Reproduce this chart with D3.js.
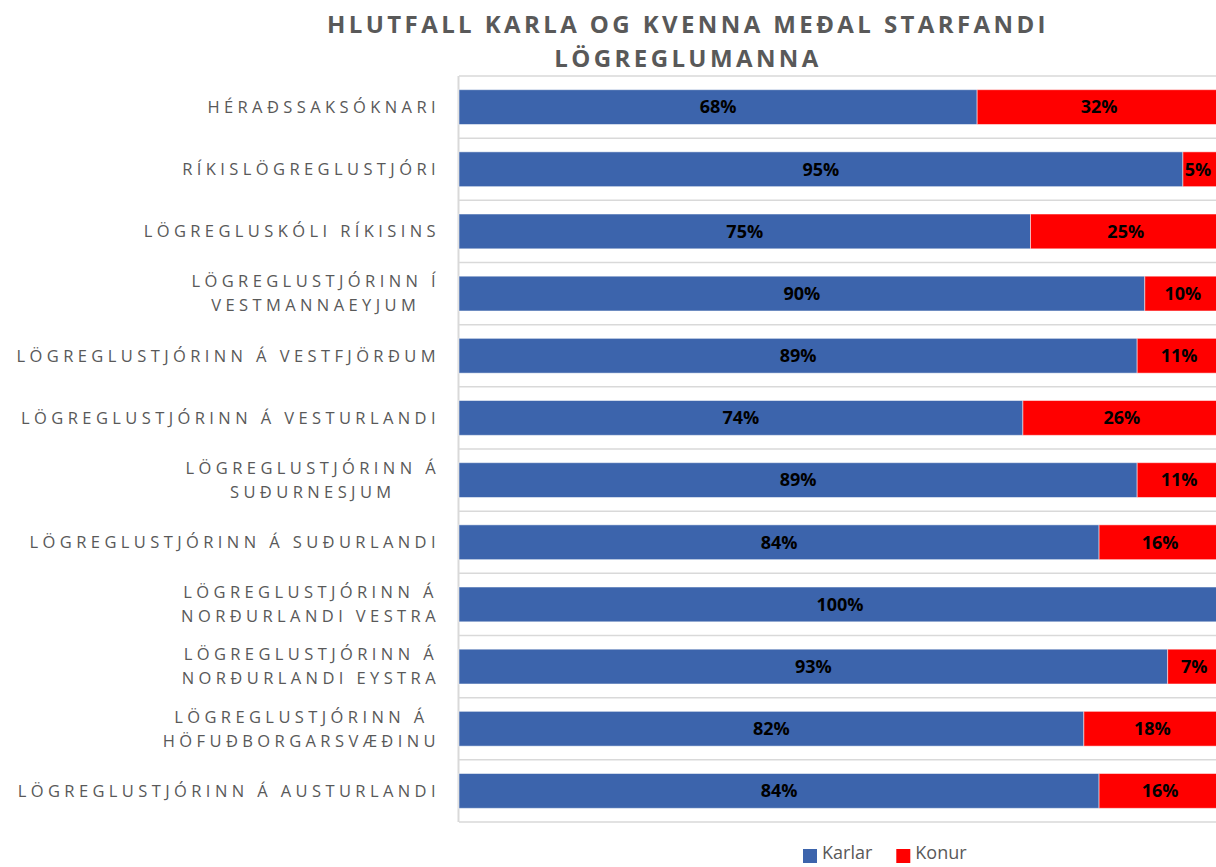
<!DOCTYPE html>
<html>
<head>
<meta charset="utf-8">
<script src="https://cdn.jsdelivr.net/npm/d3@7"></script>
<style>
  html, body { margin: 0; padding: 0; background: #fff; }
  svg { display: block; }
</style>
</head>
<body>
<svg id="chart" width="1216" height="867"></svg>
<script>
const categories = [
  "HÉRAÐSSAKSÓKNARI",
  "RÍKISLÖGREGLUSTJÓRI",
  "LÖGREGLUSKÓLI RÍKISINS",
  "LÖGREGLUSTJÓRINN Í|VESTMANNAEYJUM",
  "LÖGREGLUSTJÓRINN Á VESTFJÖRÐUM",
  "LÖGREGLUSTJÓRINN Á VESTURLANDI",
  "LÖGREGLUSTJÓRINN Á|SUÐURNESJUM",
  "LÖGREGLUSTJÓRINN Á SUÐURLANDI",
  "LÖGREGLUSTJÓRINN Á|NORÐURLANDI VESTRA",
  "LÖGREGLUSTJÓRINN Á|NORÐURLANDI EYSTRA",
  "LÖGREGLUSTJÓRINN Á|HÖFUÐBORGARSVÆÐINU",
  "LÖGREGLUSTJÓRINN Á AUSTURLANDI"
];
const karlar = [68, 95, 75, 90, 89, 74, 89, 84, 100, 93, 82, 84];
const konur  = [32, 5, 25, 10, 11, 26, 11, 16, 0, 7, 18, 16];
const seriesNames = ["Karlar", "Konur"];
const seriesColors = ["#3C64AC", "#FF0000"];
const titleLines = ["HLUTFALL KARLA OG KVENNA MEÐAL STARFANDI", "LÖGREGLUMANNA"];

const svg = d3.select("#chart");
const W = 1216, H = 867;
const plot = { left: 459, right: 1221, top: 76, bottom: 822 };
const FONT = "'Open Sans', 'Liberation Sans', sans-serif";
const GRAY = "#595959";

const rows = categories.map((c, i) => ({ cat: c, Karlar: karlar[i], Konur: konur[i] }));
const stack = d3.stack().keys(seriesNames)(rows);

const x = d3.scaleLinear().domain([0, 100]).range([plot.left, plot.right]);
const y = d3.scaleBand().domain(categories).range([plot.top, plot.bottom]).paddingInner(0.44).paddingOuter(0.22);
const band = d3.scaleBand().domain(categories).range([plot.top, plot.bottom]);
const color = d3.scaleOrdinal().domain(seriesNames).range(seriesColors);

// Title
svg.append("g").selectAll("text").data(titleLines).join("text")
  .attr("x", 688).attr("y", (d, i) => 33 + i * 34)
  .attr("text-anchor", "middle")
  .attr("font-family", FONT).attr("font-weight", "bold")
  .attr("font-size", 24).attr("letter-spacing", 3.4)
  .attr("fill", GRAY)
  .text(d => d);

// Gridlines at category boundaries
const bounds = categories.map(c => band(c)).concat([plot.bottom]);
svg.append("g").selectAll("line").data(bounds).join("line")
  .attr("x1", plot.left).attr("x2", W)
  .attr("y1", d => d).attr("y2", d => d)
  .attr("stroke", "#d9d9d9").attr("stroke-width", 1.5);

// left axis line
svg.append("line")
  .attr("x1", plot.left - 0.5).attr("x2", plot.left - 0.5)
  .attr("y1", plot.top).attr("y2", plot.bottom)
  .attr("stroke", "#d9d9d9").attr("stroke-width", 2);

// Bars
const layers = svg.append("g").selectAll("g").data(stack).join("g")
  .attr("fill", d => color(d.key));
layers.selectAll("rect").data(d => d.map(v => ({ key: d.key, v }))).join("rect")
  .attr("x", d => x(d.v[0]))
  .attr("y", d => y(d.v.data.cat))
  .attr("width", d => x(d.v[1]) - x(d.v[0]))
  .attr("height", y.bandwidth())
  .attr("stroke", "#ffffff").attr("stroke-opacity", 0.5).attr("stroke-width", 1);

// Value labels
const labels = [];
stack.forEach(s => s.forEach(v => {
  const val = v[1] - v[0];
  if (val > 0) labels.push({ x: (x(v[0]) + x(v[1])) / 2, y: y(v.data.cat) + y.bandwidth() / 2, t: val + "%" });
}));
svg.append("g").selectAll("text").data(labels).join("text")
  .attr("x", d => Math.min(d.x, W - 18)).attr("y", d => d.y)
  .attr("dy", "0.35em").attr("text-anchor", "middle")
  .attr("font-family", FONT).attr("font-weight", "bold").attr("font-size", 18)
  .attr("fill", "#000")
  .text(d => d.t);

// Category labels (multi-line blocks centered, block right-aligned)
const catG = svg.append("g");
categories.forEach(c => {
  const lines = c.split("|");
  const cy = band(c) + band.bandwidth() / 2;
  const lh = 24;
  const g = catG.append("g");
  const texts = lines.map((ln, i) => g.append("text")
    .attr("y", cy + (i - (lines.length - 1) / 2) * lh)
    .attr("dy", "0.35em")
    .attr("font-family", FONT).attr("font-size", 16.5).attr("letter-spacing", 4.4)
    .attr("fill", GRAY).text(ln));
  const widths = texts.map(t => t.node().getComputedTextLength());
  const maxW = d3.max(widths);
  const center = 440 - maxW / 2;
  texts.forEach(t => t.attr("x", center).attr("text-anchor", "middle"));
});

// Legend
const leg = svg.append("g").attr("transform", "translate(803,853)");
let lx = 0;
seriesNames.forEach((n, i) => {
  leg.append("rect").attr("x", lx).attr("y", -4).attr("width", 14).attr("height", 14).attr("fill", seriesColors[i]);
  const t = leg.append("text").attr("x", lx + 19).attr("y", 0).attr("dy", "0.35em")
    .attr("font-family", FONT).attr("font-size", 18).attr("fill", GRAY).text(n);
  lx += 19 + t.node().getComputedTextLength() + 24;
});
</script>
</body>
</html>
